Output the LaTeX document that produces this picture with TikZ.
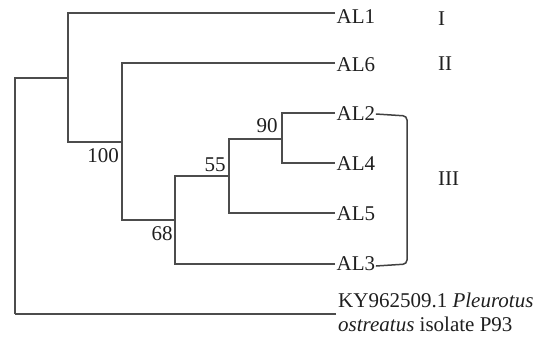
\documentclass[tikz,border=0pt]{standalone}
\usepackage{fontspec}
\setmainfont{Liberation Serif}
\begin{document}
\begin{tikzpicture}[x=1pt,y=-1pt,
  branch/.style={draw=black!70, line width=1.3pt, line join=miter},
  leaf/.style={anchor=west, inner sep=1.5pt, font=\fontsize{21}{24}\selectfont, text=black!88},
  boot/.style={inner sep=0pt, font=\fontsize{21}{24}\selectfont, text=black!88},
  clade/.style={anchor=west, inner sep=0pt, font=\fontsize{21}{24}\selectfont, text=black!88}]
\useasboundingbox (0,0) rectangle (545,338);
% internal node coordinates
\coordinate (n0t) at (15,78);  \coordinate (n0b) at (15,314);
\coordinate (n1t) at (68,13);  \coordinate (n1b) at (68,142); \coordinate (n1m) at (68,78);
\coordinate (n2t) at (122,63); \coordinate (n2b) at (122,220); \coordinate (n2m) at (122,142);
\coordinate (n3t) at (175,176); \coordinate (n3b) at (175,264); \coordinate (n3m) at (175,220);
\coordinate (n4t) at (229,139); \coordinate (n4b) at (229,213); \coordinate (n4m) at (229,176);
\coordinate (n5t) at (282,113); \coordinate (n5b) at (282,163); \coordinate (n5m) at (282,139);
% leaf tips
\coordinate (t1) at (335,13);
\coordinate (t6) at (335,63);
\coordinate (t2) at (335,113);
\coordinate (t4) at (335,163);
\coordinate (t5) at (335,213);
\coordinate (t3) at (335,264);
\coordinate (tk) at (336,314);
% leaf labels
\node[leaf, yshift=-4pt] (AL1) at (t1) {AL1};
\node[leaf, yshift=-2pt] (AL6) at (t6) {AL6};
\node[leaf, yshift=-1pt] (AL2) at (t2) {AL2};
\node[leaf, yshift=-1pt] (AL4) at (t4) {AL4};
\node[leaf, yshift=-1pt] (AL5) at (t5) {AL5};
\node[leaf, yshift=0pt] (AL3) at (t3) {AL3};
\node[anchor=north west, inner sep=0pt, align=left, font=\fontsize{21}{24}\selectfont, text=black!88] (KY) at (338,293) {KY962509.1 \textit{Pleurotus}\\\textit{ostreatus} isolate P93};
% tree
\draw[branch] (n0b) -- (n0t) -- (n1m);
\draw[branch] (tk) -- (n0b);
\draw[branch] (t1) -- (n1t) -- (n1b) -- (n2m);
\draw[branch] (t6) -- (n2t) -- (n2b) -- (n3m);
\draw[branch] (t3) -- (n3b) -- (n3t) -- (n4m);
\draw[branch] (t5) -- (n4b) -- (n4t) -- (n5m);
\draw[branch] (t2) -- (n5t) -- (n5b) -- (t4);
% bootstrap values
\node[boot] (b90) at (267,126) {90};
\node[boot] (b100) at (103,156) {100};
\node[boot] (b55) at (215,165) {55};
\node[boot] (b68) at (162,234) {68};
% bracket
\coordinate (k1) at (407,116);
\coordinate (k2) at (407,264);
\draw[branch, line width=1.5pt, draw=black!75, rounded corners=4pt] ([xshift=-1pt]AL2.east |- t2) ++(0,1) -- (k1) -- (k2) -- ([xshift=-1pt]AL3.east |- 0,266);
% clade labels
\node[clade] (c1) at (438,19) {I};
\node[clade] (c2) at (438,64) {II};
\node[clade] (c3) at (438,179) {III};
\end{tikzpicture}
\end{document}
